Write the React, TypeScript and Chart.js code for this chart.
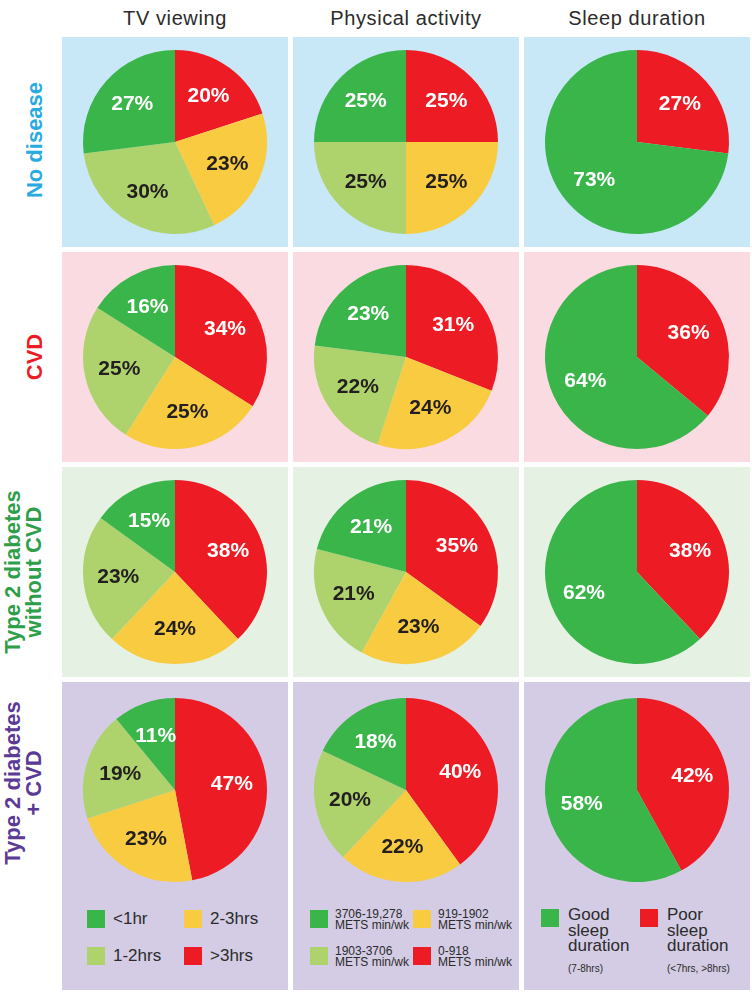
import React, { useEffect, useRef } from "react";
import Chart from "chart.js/auto";

// ---------- data ----------
const columnTitles = ["TV viewing", "Physical activity", "Sleep duration"];
const rowLabels = ["No disease", "CVD", "Type 2 diabetes\nwithout CVD", "Type 2 diabetes\n+ CVD"];

// 4-category pies, clockwise from 12 o'clock: red, yellow, light green, green
const tvCategories = [">3hrs", "2-3hrs", "1-2hrs", "<1hr"];
const tvNoDisease = [20, 23, 30, 27];
const tvCVD = [34, 25, 25, 16];
const tvT2D = [38, 24, 23, 15];
const tvT2DCVD = [47, 23, 19, 11];

const paCategories = ["0-918", "919-1902", "1903-3706", "3706-19,278"];
const paNoDisease = [25, 25, 25, 25];
const paCVD = [31, 24, 22, 23];
const paT2D = [35, 23, 21, 21];
const paT2DCVD = [40, 22, 20, 18];

// sleep: poor (red), good (green)
const sleepCategories = ["Poor sleep duration", "Good sleep duration"];
const sleepNoDisease = [27, 73];
const sleepCVD = [36, 64];
const sleepT2D = [38, 62];
const sleepT2DCVD = [42, 58];

const tvLegendLabels = ["<1hr", "1-2hrs", "2-3hrs", ">3hrs"];
const paLegendLabels = ["3706-19,278", "1903-3706", "919-1902", "0-918"];
const paLegendUnit = "METS min/wk";
const sleepLegendLabels = ["Good\nsleep\nduration", "Poor\nsleep\nduration"];
const sleepLegendNotes = ["(7-8hrs)", "(<7hrs, >8hrs)"];

// ---------- styles ----------
const RED = "#ED1C24";
const YELLOW = "#F9CB40";
const LGREEN = "#AED36C";
const GREEN = "#39B54A";
const DARK = "#231F20";
const FONT = '"Liberation Sans", Arial, Helvetica, sans-serif';

const fourColors = [RED, YELLOW, LGREEN, GREEN];
const fourText = ["#FFFFFF", DARK, DARK, "#FFFFFF"];
const twoColors = [RED, GREEN];
const twoText = ["#FFFFFF", "#FFFFFF"];

const rowBg = ["#C8E8F8", "#FADBE1", "#E5F1E3", "#D3CCE4"];
const rowColor = ["#29AAE1", "#ED1C24", "#2E9E4A", "#5B3A96"];

const colX = [62, 293, 524];
const colW = 226;
const rowY = [37, 252, 467, 682];
const rowH = [210, 210, 210, 308];

const pieData = [
  [tvNoDisease, paNoDisease, sleepNoDisease],
  [tvCVD, paCVD, sleepCVD],
  [tvT2D, paT2D, sleepT2D],
  [tvT2DCVD, paT2DCVD, sleepT2DCVD],
];
const pieCats = [tvCategories, paCategories, sleepCategories];

const labelPlugin = {
  id: "pctLabels",
  afterDatasetsDraw(chart: any) {
    const ctx = chart.ctx;
    const meta = chart.getDatasetMeta(0);
    const ds = chart.data.datasets[0];
    const textColors: string[] = (chart.options as any).labelColors || [];
    ctx.save();
    ctx.font = `bold 21px ${FONT}`;
    ctx.textAlign = "center";
    ctx.textBaseline = "middle";
    meta.data.forEach((arc: any, i: number) => {
      const p = arc.getProps(["x", "y", "startAngle", "endAngle", "outerRadius"], true);
      const mid = (p.startAngle + p.endAngle) / 2;
      const r = p.outerRadius * 0.62;
      ctx.fillStyle = textColors[i] || "#fff";
      ctx.fillText(ds.data[i] + "%", p.x + Math.cos(mid) * r, p.y + Math.sin(mid) * r);
    });
    ctx.restore();
  },
};

function Pie({ values, labels, colors, textColors, width, height, pad }: any) {
  const ref = useRef<HTMLCanvasElement>(null);
  useEffect(() => {
    if (!ref.current) return;
    const chart = new Chart(ref.current, {
      type: "pie",
      data: {
        labels,
        datasets: [{ data: values, backgroundColor: colors, borderWidth: 0 }],
      },
      options: {
        responsive: false,
        animation: false,
        devicePixelRatio: 1,
        layout: { padding: pad },
        plugins: { legend: { display: false }, tooltip: { enabled: false } },
        labelColors: textColors,
      } as any,
      plugins: [labelPlugin],
    });
    return () => chart.destroy();
  }, []);
  return <canvas ref={ref} width={width} height={height} style={{ position: "absolute", left: 0, top: 0 }} />;
}

function Square({ color }: { color: string }) {
  return <div style={{ width: 18, height: 18, background: color, flex: "none" }} />;
}

function TvLegend() {
  const cols = [GREEN, LGREEN, YELLOW, RED];
  const pos = [
    [25, 228],
    [25, 265],
    [122, 228],
    [122, 265],
  ];
  return (
    <>
      {tvLegendLabels.map((t, i) => (
        <div key={i} style={{ position: "absolute", left: pos[i][0], top: pos[i][1], display: "flex", alignItems: "center" }}>
          <Square color={cols[i]} />
          <span style={{ marginLeft: 8, fontSize: 17, color: "#2b2b2b", lineHeight: "18px" }}>{t}</span>
        </div>
      ))}
    </>
  );
}

function PaLegend() {
  const cols = [GREEN, LGREEN, YELLOW, RED];
  const pos = [
    [17, 228],
    [17, 265],
    [120, 228],
    [120, 265],
  ];
  return (
    <>
      {paLegendLabels.map((t, i) => (
        <div key={i} style={{ position: "absolute", left: pos[i][0], top: pos[i][1], display: "flex", alignItems: "flex-start" }}>
          <Square color={cols[i]} />
          <div style={{ marginLeft: 7, fontSize: 12, color: "#2b2b2b", lineHeight: "11px", marginTop: -1 }}>
            <div>{t}</div>
            <div>{paLegendUnit}</div>
          </div>
        </div>
      ))}
    </>
  );
}

function SleepLegend() {
  const cols = [GREEN, RED];
  const pos = [
    [17, 227],
    [116, 227],
  ];
  return (
    <>
      {sleepLegendLabels.map((t, i) => (
        <div key={i} style={{ position: "absolute", left: pos[i][0], top: pos[i][1], display: "flex", alignItems: "flex-start" }}>
          <Square color={cols[i]} />
          <div style={{ marginLeft: 9, color: "#2b2b2b", marginTop: -2 }}>
            {t.split("\n").map((l, j) => (
              <div key={j} style={{ fontSize: 17, lineHeight: "15.5px" }}>{l}</div>
            ))}
            <div style={{ fontSize: 10, lineHeight: "12px", marginTop: 9 }}>{sleepLegendNotes[i]}</div>
          </div>
        </div>
      ))}
    </>
  );
}

export default function App() {
  return (
    <div style={{ position: "absolute", left: 0, top: 0, width: 752, height: 992, background: "#fff", fontFamily: FONT, overflow: "hidden" }}>
      {columnTitles.map((t, c) => (
        <div
          key={t}
          style={{ position: "absolute", left: colX[c], top: 5, width: colW, textAlign: "center", fontSize: 20, lineHeight: "26px", color: "#2b2b2b", letterSpacing: 0.6 }}
        >
          {t}
        </div>
      ))}
      {rowLabels.map((t, r) => {
        const lines = t.split("\n");
        const cx = lines.length > 1 ? 23 : 35;
        const cy = r === 3 ? 783 : rowY[r] + rowH[r] / 2 - (r === 0 ? 2 : 0);
        const w = 240;
        const h = 50;
        return (
          <div
            key={r}
            style={{
              position: "absolute",
              left: cx - w / 2,
              top: cy - h / 2,
              width: w,
              height: h,
              transform: "rotate(-90deg)",
              display: "flex",
              flexDirection: "column",
              alignItems: "center",
              justifyContent: "center",
              color: rowColor[r],
              fontWeight: "bold",
              fontSize: 22,
              lineHeight: "21.5px",
              textAlign: "center",
            }}
          >
            {lines.map((l, j) => (
              <div key={j}>{l}</div>
            ))}
          </div>
        );
      })}
      {pieData.map((row, r) =>
        row.map((vals, c) => (
          <div
            key={`${r}-${c}`}
            style={{ position: "absolute", left: colX[c], top: rowY[r], width: colW, height: rowH[r], background: rowBg[r] }}
          >
            <Pie
              values={vals}
              labels={pieCats[c]}
              colors={c === 2 ? twoColors : fourColors}
              textColors={c === 2 ? twoText : fourText}
              width={colW}
              height={r === 3 ? 216 : 210}
              pad={r === 3 ? 16 : 13}
            />
            {r === 3 && c === 0 && <TvLegend />}
            {r === 3 && c === 1 && <PaLegend />}
            {r === 3 && c === 2 && <SleepLegend />}
          </div>
        ))
      )}
    </div>
  );
}
